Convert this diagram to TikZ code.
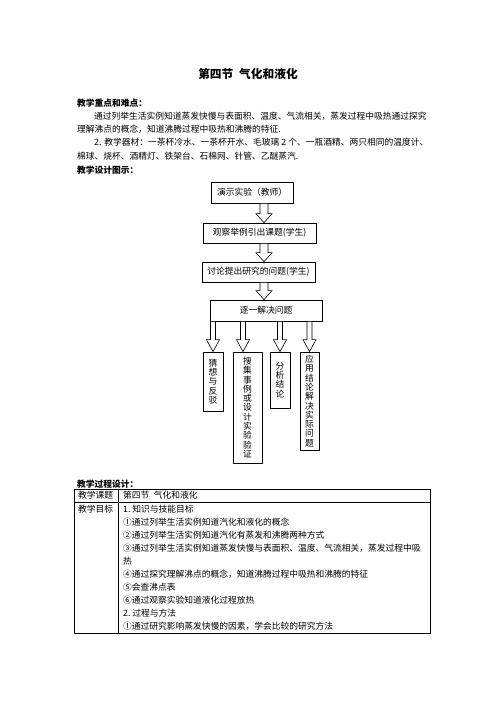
\documentclass[tikz,border=0pt]{standalone}
\usepackage{fontspec}
\setmainfont{Noto Sans CJK SC}
\usetikzlibrary{calc}

\begin{document}
\begin{tikzpicture}[x=1pt, y=-1pt,
    every node/.style={font=\fontsize{8.75}{9}\selectfont, inner sep=0pt},
    txt/.style={anchor=west},
    titre/.style={anchor=west, font=\fontsize{8.75}{9}\selectfont\bfseries},
    box/.style={draw, rectangle, line width=0.7pt, align=center},
    vbox/.style={box, font=\fontsize{8.75}{9.3}\selectfont},
    blk/.style n args={3}{draw, fill=white, line width=0.6pt,
      to path={let \p1=(\tikztostart), \p2=(\tikztotarget) in
        (\x1-#1,\y1) -- (\x1+#1,\y1) -- (\x1+#1,\y2+#3) -- (\x1+#2,\y2+#3)
        -- (\x1,\y2) -- (\x1-#2,\y2+#3) -- (\x1-#1,\y2+#3) -- cycle}},
    bigarrow/.style={blk={4pt}{8pt}{9pt}},
    smallarrow/.style={blk={2.5pt}{6.5pt}{12pt}},
    tbl/.style={line width=0.7pt}]
    \fill[white] (0,0) rectangle (496,702);
    \useasboundingbox (0,0) rectangle (496,702);

    % En-tete
    \node[font=\fontsize{11.7}{12}\selectfont\bfseries] (title) at (248,74) {第四节\hspace{0.5em}气化和液化};
    \node[titre] (keys) at (77,103) {教学重点和难点：};
    \node[txt] (k1) at (94,116) {通过列举生活实例知道蒸发快慢与表面积、温度、气流相关，蒸发过程中吸热通过探究};
    \node[txt] (k2) at (77,129) {理解沸点的概念，知道沸腾过程中吸热和沸腾的特征.};
    \node[txt] (k3) at (94,142) {2.\hspace{3pt}教学器材：一茶杯冷水、一茶杯开水、毛玻璃 2 个、一瓶酒精、两只相同的温度计、};
    \node[txt] (k4) at (77,156) {棉球、烧杯、酒精灯、铁架台、石棉网、针管、乙醚蒸汽.};
    \node[titre] (scheme) at (77,170) {教学设计图示：};

    % Organigramme
    \node[box, minimum width=82, minimum height=21] (demo) at (252,192.5) {演示实验（教师）};
    \node[box, minimum width=113, minimum height=20] (intro) at (259.5,233) {观察举例引出课题(学生)};
    \node[box, minimum width=113, minimum height=20] (ask) at (258.5,272) {讨论提出研究的问题(学生)};
    \node[box, minimum width=112, minimum height=21] (solve) at (266,310.5) {逐一解决问题};

    \node[vbox, minimum width=20, minimum height=59] (guess) at (213,381.5) {猜\\想\\与\\反\\驳};
    \node[vbox, minimum width=29, minimum height=111] (collect) at (247.5,407.5) {搜\\集\\事\\例\\或\\设\\计\\实\\验\\验\\证};
    \node[vbox, minimum width=20, minimum height=56] (concl) at (280,380) {分\\析\\结\\论};
    \node[vbox, minimum width=19, minimum height=98] (apply) at (309.5,401) {应\\用\\结\\论\\解\\决\\实\\际\\问\\题};

    \coordinate (col) at (264,0);
    \coordinate (cb) at ([xshift=-4.5pt]collect.north);

    % Fleches
    \draw[bigarrow] (demo.south -| col) to (intro.north -| col);
    \draw[bigarrow] (intro.south -| col) to (ask.north -| col);
    \draw[bigarrow] (ask.south -| col) to (solve.north -| col);

    \draw[smallarrow] (solve.south -| guess.north) to (guess.north);
    \draw[smallarrow] (solve.south -| cb) to (cb);
    \draw[smallarrow] (solve.south -| concl.north) to (concl.north);
    \draw[smallarrow] (solve.south -| apply.north) to (apply.north);

    % Tableau
    \node[titre] (process) at (77,484) {教学过程设计：};
    \draw[tbl] (74,489) rectangle (430,633);
    \draw[tbl] (74,502) -- (430,502);
    \draw[tbl] (118,489) -- (118,633);

    \node[txt] (topic) at (78,495.5) {教学课题};
    \node[txt] (topicv) at (123,495.5) {第四节\hspace{0.5em}气化和液化};
    \node[txt] (goal) at (78,509) {教学目标};
    \foreach \t [count=\i] in {{1.\hspace{2pt}知识与技能目标},
        {①通过列举生活实例知道汽化和液化的概念},
        {②通过列举生活实例知道汽化有蒸发和沸腾两种方式},
        {③通过列举生活实例知道蒸发快慢与表面积、温度、气流相关，蒸发过程中吸},
        {热},
        {④通过探究理解沸点的概念，知道沸腾过程中吸热和沸腾的特征},
        {⑤会查沸点表},
        {⑥通过观察实验知道液化过程放热},
        {2.\hspace{2pt}过程与方法},
        {①通过研究影响蒸发快慢的因素，学会比较的研究方法}}
      \node[txt] (g\i) at (123,{509+13*(\i-1)}) {\t};
\end{tikzpicture}
\end{document}
